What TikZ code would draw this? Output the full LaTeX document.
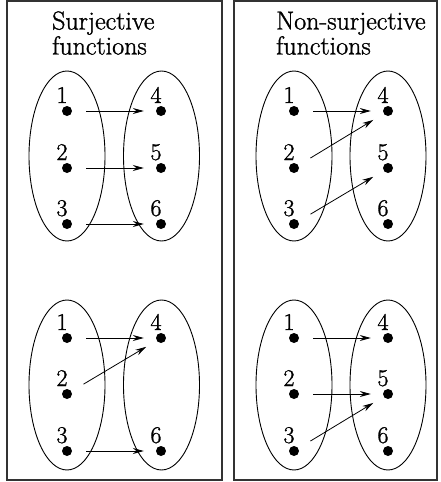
\documentclass[tikz,border=0pt]{standalone}
\usepackage{fontspec}
\newfontfamily\heavyrm{Latin Modern Roman}[FakeBold=1.2]
\usetikzlibrary{arrows.meta}
\tikzset{
  panel/.style={draw=black!80, line width=1.2pt},
  setell/.style={draw, line width=0.9pt},
  dot/.style={circle, fill=black, inner sep=0pt, minimum size=10pt},
  num/.style={anchor=base, inner sep=0pt, font=\heavyrm\fontsize{24}{24}\selectfont},
  ttl/.style={anchor=base west, inner sep=0pt, font=\heavyrm\fontsize{26}{26}\selectfont},
  map/.style={-{Stealth[length=11pt,width=6pt]}, line width=0.8pt, shorten <=14pt, shorten >=12pt}
}
\begin{document}
\begin{tikzpicture}[x=1pt,y=-1pt]
\useasboundingbox (0,0) rectangle (441,482);
% panels
\draw[panel] (7,1) rectangle (222,480);
\draw[panel] (234,1) rectangle (437,480);
% titles
\node[ttl] (t1a) at (52,29.5) {Surjective};
\node[ttl] (t1b) at (52,54.5) {functions};
\node[ttl] (t2a) at (276,29.5) {Non-surjective};
\node[ttl] (t2b) at (276,54.5) {functions};
% ellipses
\foreach \cx/\cy/\n in {67/156/a, 161.5/156/b, 67/385/c, 161.5/385/d, 294/156/e, 388/156/f, 294/385/g, 388/385/h}
  \draw[setell] (\cx,\cy) ellipse [x radius=38, y radius=85];
% dots and labels
\foreach \nm/\x/\y/\t in {A1/67/111/1, A2/67/168/2, A3/67/224/3, A4/161/111/4, A5/161/168/5, A6/161/224/6,
                          B1/67/338/1, B2/67/394/2, B3/67/451/3, B4/161/338/4, B6/161/451/6,
                          C1/294/111/1, C2/294/168/2, C3/294/224/3, C4/388/111/4, C5/388/168/5, C6/388/224/6,
                          D1/294/338/1, D2/294/394/2, D3/294/451/3, D4/388/338/4, D5/388/394/5, D6/388/451/6} {
  \node[dot] (\nm) at (\x,\y) {};
  \node[num] (\nm l) at (\x-5,\y-8) {\t};
}
% mappings
\draw[map] (A1) -- (A4);
\draw[map] (A2) -- (A5);
\draw[map] (A3) -- (A6);
\draw[map] (B1) -- (B4);
\draw[map] (B2) -- (B4);
\draw[map] (B3) -- (B6);
\draw[map] (C1) -- (C4);
\draw[map] (C2) -- (C4);
\draw[map] (C3) -- (C5);
\draw[map] (D1) -- (D4);
\draw[map] (D2) -- (D5);
\draw[map] (D3) -- (D5);
\end{tikzpicture}
\end{document}
